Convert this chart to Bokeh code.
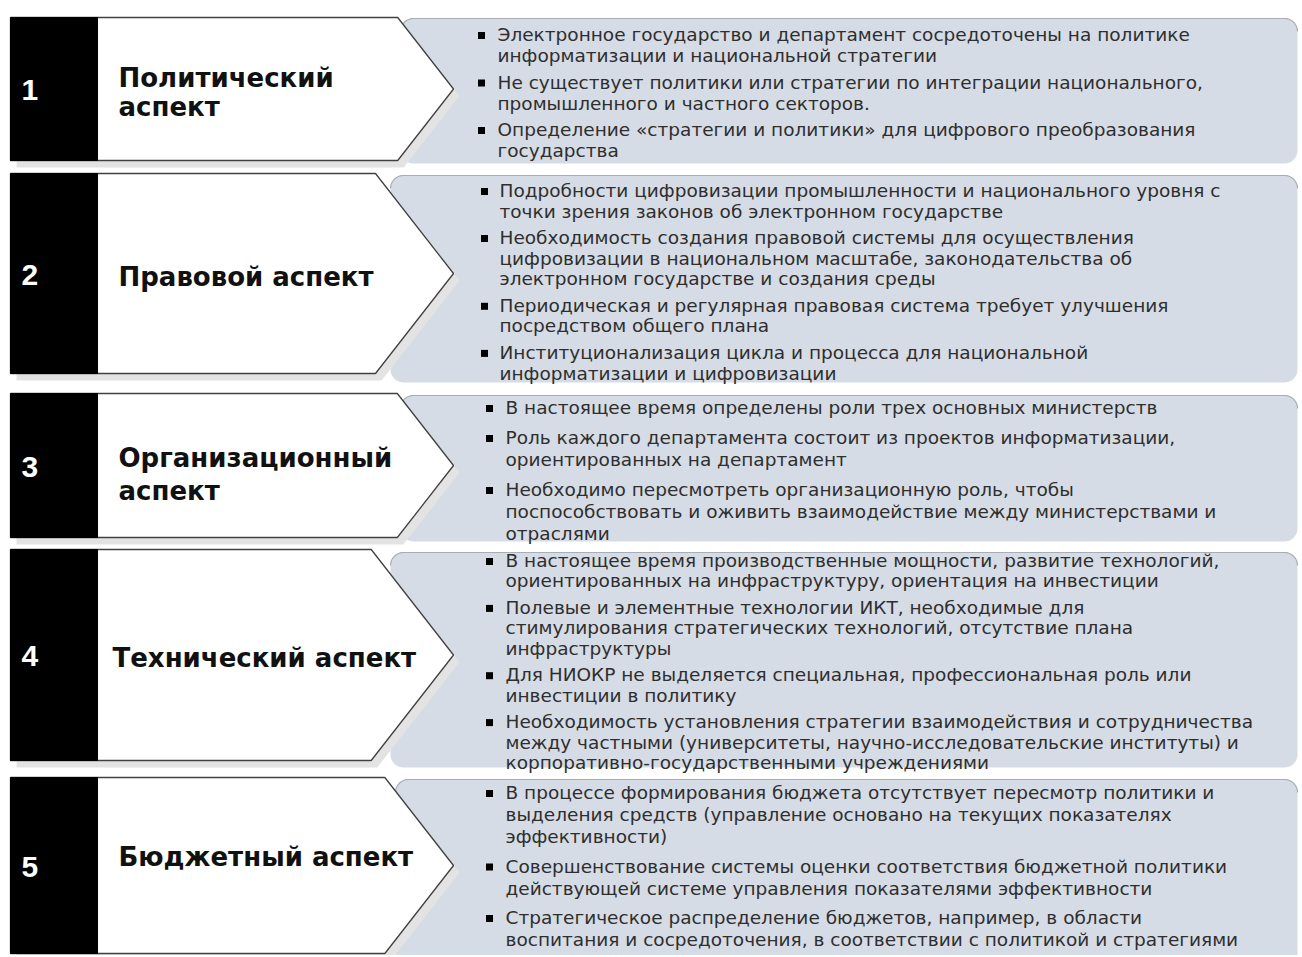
import numpy as np
from bokeh.plotting import figure
from bokeh.models import Range1d
from bokeh.core.properties import value
from bokeh.embed import file_html
from bokeh.resources import INLINE

# ---------------- data ----------------
aspect_numbers = ["1", "2", "3", "4", "5"]
aspect_titles = [
    ["Политический", "аспект"],
    ["Правовой аспект"],
    ["Организационный", "аспект"],
    ["Технический аспект"],
    ["Бюджетный аспект"],
]
points_political = [
    ["Электронное государство и департамент сосредоточены на политике",
     "информатизации и национальной стратегии"],
    ["Не существует политики или стратегии по интеграции национального,",
     "промышленного и частного секторов."],
    ["Определение «стратегии и политики» для цифрового преобразования",
     "государства"],
]
points_legal = [
    ["Подробности цифровизации промышленности и национального уровня с",
     "точки зрения законов об электронном государстве"],
    ["Необходимость создания правовой системы для осуществления",
     "цифровизации в национальном масштабе, законодательства об",
     "электронном государстве и создания среды"],
    ["Периодическая и регулярная правовая система требует улучшения",
     "посредством общего плана"],
    ["Институционализация цикла и процесса для национальной",
     "информатизации и цифровизации"],
]
points_organizational = [
    ["В настоящее время определены роли трех основных министерств"],
    ["Роль каждого департамента состоит из проектов информатизации,",
     "ориентированных на департамент"],
    ["Необходимо пересмотреть организационную роль, чтобы",
     "поспособствовать и оживить взаимодействие между министерствами и",
     "отраслями"],
]
points_technical = [
    ["В настоящее время производственные мощности, развитие технологий,",
     "ориентированных на инфраструктуру, ориентация на инвестиции"],
    ["Полевые и элементные технологии ИКТ, необходимые для",
     "стимулирования стратегических технологий, отсутствие плана",
     "инфраструктуры"],
    ["Для НИОКР не выделяется специальная, профессиональная роль или",
     "инвестиции в политику"],
    ["Необходимость установления стратегии взаимодействия и сотрудничества",
     "между частными (университеты, научно-исследовательские институты) и",
     "корпоративно-государственными  учреждениями"],
]
points_budget = [
    ["В процессе формирования бюджета отсутствует пересмотр политики и",
     "выделения средств (управление основано на текущих показателях",
     "эффективности)"],
    ["Совершенствование системы оценки соответствия бюджетной политики",
     "действующей системе управления показателями эффективности"],
    ["Стратегическое распределение бюджетов, например, в области",
     "воспитания и сосредоточения, в соответствии с политикой и стратегиями"],
]
all_points = [points_political, points_legal, points_organizational,
              points_technical, points_budget]

# ---------------- layout (pixel coordinates of the page) ----------------
W, H = 1300, 955
block_top = [17, 173, 393, 549, 777]
block_bot = [160, 373, 537, 760, 953]
panel_left = [400, 390, 400, 390, 395]
panel_top = [18, 175, 395, 552, 779]
panel_bot = [163, 382, 541, 767, 975]
panel_right = 1297
tip_x = 453
left_x = 10
bar_right = 97
title_x = [118, 118, 118, 112, 118]
title_centers = [[77, 106], [276], [457, 490], [657], [856]]
bullet_x = [481, 484, 489, 489, 489]
text_x = [497, 499, 505, 505, 505]
line_start = [34, 190, 407, 560, 792]
line_step = [21, 20.6, 22, 20.4, 22]
bullet_gap = [26.5, 26.5, 30, 26.5, 29.5]

BODY_FONT = "DejaVu Sans"
TITLE_FONT = "DejaVu Sans"

p = figure(width=W, height=H, x_range=Range1d(0, W), y_range=Range1d(H, 0),
           x_axis_type=None, y_axis_type=None, toolbar_location=None,
           output_backend="svg", min_border=0)
p.grid.visible = False
p.outline_line_color = None
p.background_fill_color = "white"
p.border_fill_color = "white"


def rounded_rect(x0, y0, x1, y1, r, n=10):
    xs, ys = [], []
    corners = [(x1 - r, y0 + r, -np.pi / 2, 0), (x1 - r, y1 - r, 0, np.pi / 2),
               (x0 + r, y1 - r, np.pi / 2, np.pi), (x0 + r, y0 + r, np.pi, 1.5 * np.pi)]
    for cx, cy, a0, a1 in corners:
        t = np.linspace(a0, a1, n)
        xs.extend(cx + r * np.cos(t))
        ys.extend(cy + r * np.sin(t))
    return list(xs), list(ys)


# panels
R = 13
pan_xs, pan_ys, top_xs, top_ys = [], [], [], []
for i in range(5):
    xs, ys = rounded_rect(panel_left[i], panel_top[i], panel_right, panel_bot[i], R)
    pan_xs.append(xs)
    pan_ys.append(ys)
    t1 = np.linspace(np.pi, 1.5 * np.pi, 10)
    t2 = np.linspace(-np.pi / 2, 0, 10)
    tx = list(panel_left[i] + R + R * np.cos(t1)) + list(panel_right - R + R * np.cos(t2))
    ty = list(panel_top[i] + R + R * np.sin(t1)) + list(panel_top[i] + R + R * np.sin(t2))
    top_xs.append(tx)
    top_ys.append(ty)
p.patches(pan_xs, pan_ys, fill_color="#D6DCE5", line_color=None)
p.multi_line(top_xs, top_ys, line_color="#A9AEB6", line_width=1.2)

# arrows (shadow + body)
arr_xs, arr_ys, sh_xs, sh_ys = [], [], [], []
for i in range(5):
    top, bot = block_top[i], block_bot[i]
    mid = (top + bot) / 2
    xr = tip_x - 0.78 * (bot - top) / 2
    xs = [left_x, xr, tip_x, xr, left_x]
    ys = [top, top, mid, bot, bot]
    arr_xs.append(xs)
    arr_ys.append(ys)
    sh_xs.append([x + 6 for x in xs])
    sh_ys.append([y + 7 for y in ys])
p.patches(sh_xs, sh_ys, fill_color="#E3E3E3", line_color=None)
p.patches(arr_xs, arr_ys, fill_color="white", line_color="#404040", line_width=1.3)
p.quad(left=[left_x] * 5, right=[bar_right] * 5, top=block_top, bottom=block_bot,
       fill_color="black", line_color="black")

# numbers
p.text(x=[21] * 5, y=[(t + b) / 2 + 1 for t, b in zip(block_top, block_bot)],
       text=aspect_numbers, text_font=value("Liberation Sans"), text_font_style="bold",
       text_font_size="30px", text_color="white", text_baseline="middle",
       text_align="left")

# titles
tx, ty, tt = [], [], []
for i in range(5):
    for k, ln in enumerate(aspect_titles[i]):
        tx.append(title_x[i])
        ty.append(title_centers[i][k])
        tt.append(ln)
p.text(x=tx, y=ty, text=tt, text_font=value(TITLE_FONT), text_font_style="bold",
       text_font_size="26px", text_color="#111111", text_baseline="middle",
       text_align="left")

# bullet texts
bx, by, lx, ly, lt = [], [], [], [], []
for i in range(5):
    y = line_start[i]
    for bi, bullet in enumerate(all_points[i]):
        if bi > 0:
            y += bullet_gap[i] - line_step[i]
        bx.append(bullet_x[i])
        by.append(y + 1)
        for ln in bullet:
            lx.append(text_x[i])
            ly.append(y)
            lt.append(ln)
            y += line_step[i]
p.scatter(bx, by, marker="square", size=7, fill_color="black", line_color=None)
p.text(x=lx, y=ly, text=lt, text_font=value(BODY_FONT), text_font_size="18.5px",
       text_color="#2E2E2E", text_baseline="middle", text_align="left")

open("out.html", "w").write(file_html(p, INLINE))
